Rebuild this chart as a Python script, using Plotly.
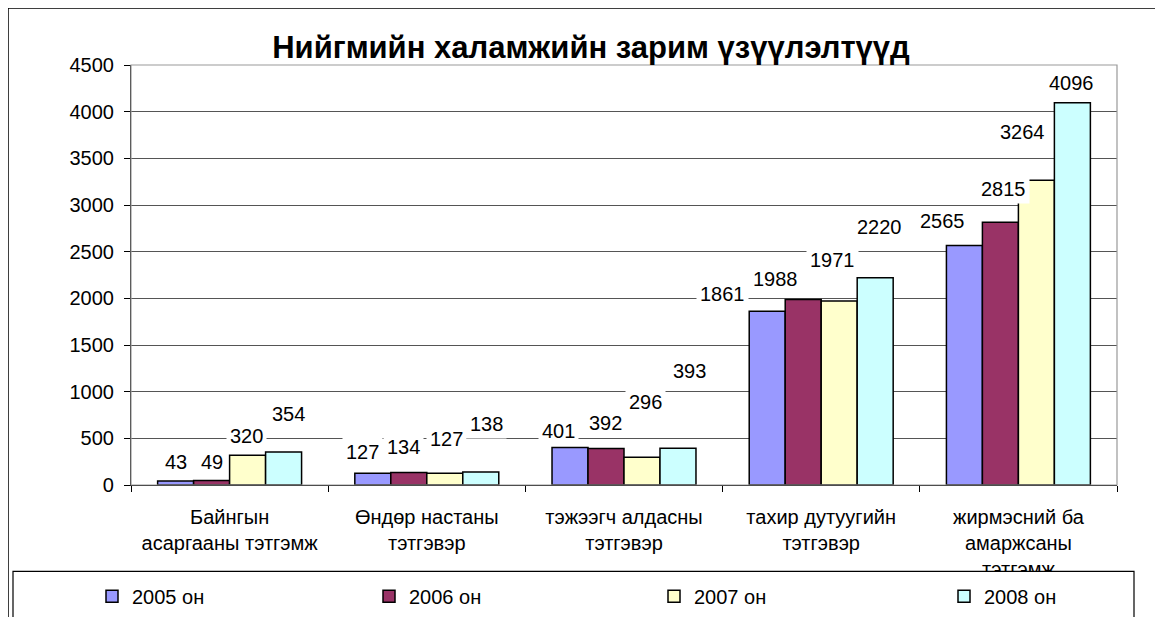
import plotly.graph_objects as go

# categories and values
categories = [
    "Байнгын<br>асаргааны тэтгэмж",
    "Өндөр настаны<br>тэтгэвэр",
    "тэжээгч алдасны<br>тэтгэвэр",
    "тахир дутуугийн<br>тэтгэвэр",
    "жирмэсний ба<br>амаржсаны<br>тэтгэмж",
]
years = ["2005 он", "2006 он", "2007 он", "2008 он"]
v2005 = [43, 127, 401, 1861, 2565]
v2006 = [49, 134, 392, 1988, 2815]
v2007 = [320, 127, 296, 1971, 3264]
v2008 = [354, 138, 393, 2220, 4096]
colors = ["#9999FF", "#993366", "#FFFFCC", "#CCFFFF"]

# label offsets (px) from the top-centre of each bar, as placed in the original
label_dx = [
    [0, -10, -12, -45, -22],
    [0, -5, -1, -28, 3],
    [-1, 2, 3, -7, -14],
    [5, 6, 11, 4, -1],
]
label_dy = [
    [19, 21, 17, 17, 25],
    [18, 25, 25, 20, 33],
    [19, 34, 55, 41, 48],
    [38, 48, 77, 51, 20],
]

# the page body has an 8px margin, so the figure is drawn 8px smaller and
# every position below is given in screen pixels then shifted by OFF
OFF = 8
W, H = 1163 - OFF, 617 - OFF
PLOT_L, PLOT_R, PLOT_T, PLOT_B = 131, 1117, 65, 485.5   # screen px
L, T = PLOT_L - OFF, PLOT_T - OFF
R, B = W - (PLOT_R - OFF), H - (PLOT_B - OFF)
pw, ph = PLOT_R - PLOT_L, PLOT_B - PLOT_T
BAR_W = 36
FONT = "Arial, Liberation Sans, sans-serif"
FS = 20

# left edge (screen px) of each legend swatch
legend_px = [106, 383, 668, 958]


def px_x(x):
    return (x - PLOT_L) / pw


def px_y(y):
    return (PLOT_B - y) / ph


series = [v2005, v2006, v2007, v2008]
legend_ids = ["legend", "legend2", "legend3", "legend4"]

fig = go.Figure()
for name, vals, col, lid in zip(years, series, colors, legend_ids):
    fig.add_trace(go.Bar(x=categories, y=vals, name=name, legend=lid, showlegend=True,
                         marker=dict(color=col, line=dict(color="black", width=1.5))))

annotations = []
for i, vals in enumerate(series):
    for j, v in enumerate(vals):
        annotations.append(dict(
            x=categories[j], y=v, xref="x", yref="y", text=str(v), showarrow=False,
            xshift=(i - 1.5) * BAR_W + label_dx[i][j], yshift=label_dy[i][j],
            yanchor="middle", xanchor="center",
            bgcolor="white", borderpad=3,
            font=dict(family=FONT, size=FS, color="black"),
        ))

shapes = [
    # outer chart border
    dict(type="rect", xref="paper", yref="paper", x0=px_x(8), y0=px_y(8), x1=px_x(1200), y1=px_y(700),
         line=dict(color="black", width=1.5), fillcolor="rgba(0,0,0,0)", layer="below"),
    # plot area border (grey top/right)
    dict(type="rect", xref="paper", yref="paper", x0=0, y0=0, x1=1, y1=1,
         line=dict(color="#999999", width=1.2), fillcolor="rgba(0,0,0,0)", layer="above"),
    # legend box
    dict(type="rect", xref="paper", yref="paper", x0=px_x(13), y0=px_y(572), x1=px_x(1134), y1=px_y(660),
         line=dict(color="black", width=1.2), fillcolor="white", layer="above"),
]

legends = {}
for lid, xpx in zip(legend_ids, legend_px):
    legends[lid] = dict(orientation="h", x=px_x(xpx - 14), y=px_y(597), xanchor="left", yanchor="middle",
                        bgcolor="rgba(0,0,0,0)", font=dict(family=FONT, size=FS, color="black"))

fig.update_layout(
    width=W, height=H,
    margin=dict(l=L, r=R, t=T, b=B, autoexpand=False),
    paper_bgcolor="white", plot_bgcolor="white",
    showlegend=True,
    barmode="group", bargap=0.27, bargroupgap=0,
    title=dict(text="<b>Нийгмийн халамжийн зарим үзүүлэлтүүд</b>", x=(591 - OFF) / W, xref="container",
               y=1 - (47 - OFF) / H, yref="container", xanchor="center", yanchor="middle",
               font=dict(family=FONT, size=31, color="black")),
    font=dict(family=FONT, size=FS, color="black"),
    annotations=annotations,
    shapes=shapes,
    **legends,
)

fig.update_yaxes(range=[0, 4500], dtick=500, tick0=0, showgrid=True, gridcolor="#555555", gridwidth=1,
                 showline=True, linecolor="black", linewidth=1.2, ticks="outside", ticklen=6,
                 tickcolor="black", zeroline=False, tickfont=dict(family=FONT, size=FS),
                 ticklabelstandoff=6)
fig.update_xaxes(showline=True, linecolor="black", linewidth=1.2, ticks="outside", ticklen=6,
                 tickcolor="black", tickson="boundaries", showgrid=False,
                 tickfont=dict(family=FONT, size=FS), ticklabelstandoff=14)

fig.write_html("out.html")
